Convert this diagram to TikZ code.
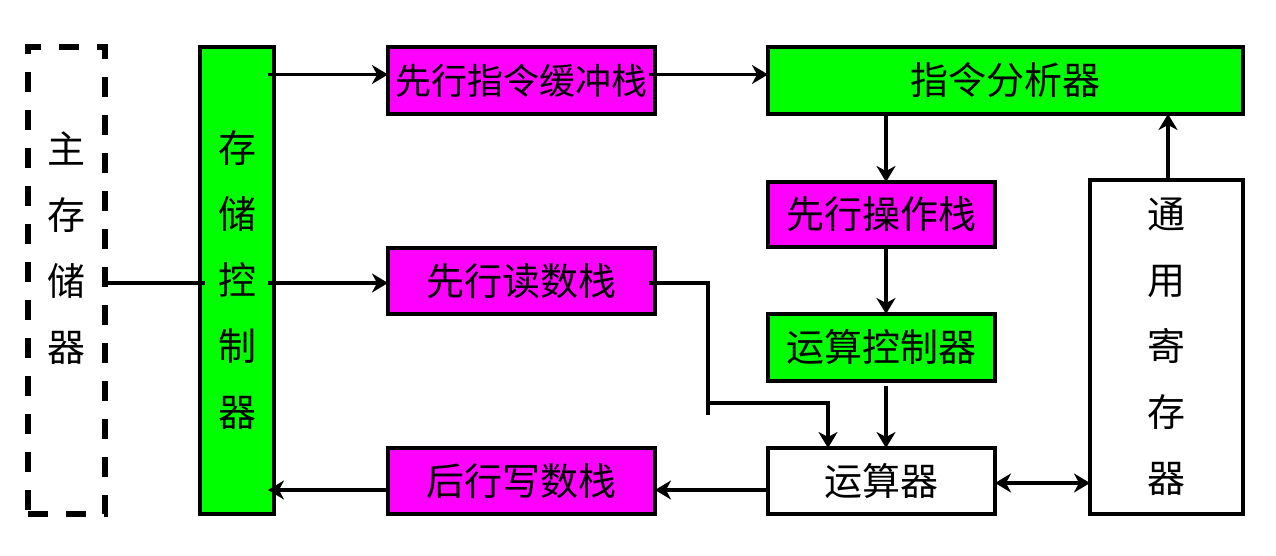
\documentclass[tikz,border=0pt]{standalone}
\usepackage{fontspec}
\newfontfamily\cjk{Noto Sans CJK SC}
\usetikzlibrary{arrows.meta,calc}
\definecolor{bgreen}{HTML}{00FF00}
\definecolor{bmag}{HTML}{FF00FF}
\begin{document}
\begin{tikzpicture}[x=1pt,y=-1pt,
  box/.style={draw=black,line width=4.5pt,inner sep=0pt,outer sep=0pt,font=\cjk\fontsize{38}{66}\selectfont,align=center},
  arr/.style={line width=3.2pt,-{Stealth[length=16pt,width=19pt,inset=5pt]}},
  plain/.style={line width=3.2pt},
  dbl/.style={line width=3.2pt,{Stealth[length=16pt,width=19pt,inset=5pt]}-{Stealth[length=16pt,width=19pt,inset=5pt]}}]
\useasboundingbox (0,0) rectangle (1276,556);
% boxes
\node[draw=black,line width=5.5pt,dash pattern=on 20pt off 18pt,minimum width=77pt,minimum height=467pt,inner sep=0pt] (mem) at (66.5,280.5) {};
\node[font=\cjk\fontsize{38}{66}\selectfont,align=center,inner sep=0pt] (memtxt) at (66.5,248) {主\\存\\储\\器};
\node[box,fill=bgreen,minimum width=74pt,minimum height=467pt] (ctrl) at (237,280.5) {存\\储\\控\\制\\器};
\node[box,fill=bmag,minimum width=267pt,minimum height=67pt,font=\cjk\fontsize{36}{40}\selectfont] (ibuf) at (521.5,80.5) {先行指令缓冲栈};
\node[box,fill=bgreen,minimum width=475pt,minimum height=67pt] (ana) at (1005.5,80.5) {指令分析器};
\node[box,fill=bmag,minimum width=227pt,minimum height=65pt] (opst) at (881.5,214.5) {先行操作栈};
\node[box,fill=bgreen,minimum width=227pt,minimum height=67pt] (actl) at (881.5,347.5) {运算控制器};
\node[box,fill=white,minimum width=227pt,minimum height=66pt] (alu) at (881.5,481) {运算器};
\node[box,fill=white,minimum width=153pt,minimum height=334pt] (reg) at (1166.5,347) {通\\用\\寄\\存\\器};
\node[box,fill=bmag,minimum width=267pt,minimum height=66pt] (rd) at (521.5,281) {先行读数栈};
\node[box,fill=bmag,minimum width=267pt,minimum height=66pt] (wr) at (521.5,481) {后行写数栈};
% helper coordinates
\coordinate (bx) at (708,0);
\coordinate (ax) at (828,0);
% connectors
\draw[arr] ($(ctrl.east |- ibuf.west)+(-6,-6)$) -- ($(ibuf.west)+(0,-6)$);
\draw[arr] ($(ibuf.east)+(-6,-6)$) -- ($(ana.west)+(0,-6)$);
\draw[plain] (mem.east |- 0,283) -- ($(ctrl.west |- 0,283)+(5,0)$);
\draw[arr] ($(ctrl.east |- 0,283)+(-6,0)$) -- (rd.west |- 0,283);
\draw[plain] ($(rd.east |- 0,283)+(-6,0)$) -| ($(bx)+(0,415)$);
\draw[arr] ($(bx)+(0,403)$) -| (alu.north -| ax);
\draw[arr] ($(ana.south -| opst.north)+(4.5,0)$) -- ($(opst.north)+(4.5,0)$);
\draw[arr] ($(opst.south)+(4.5,0)$) -- ($(actl.north)+(4.5,0)$);
\draw[arr] ($(actl.south)+(4.5,5)$) -- ($(alu.north)+(4.5,0)$);
\draw[dbl] ($(alu.east)+(0,2)$) -- ($(reg.west |- alu.east)+(0,2)$);
\draw[arr] ($(reg.north)+(1.5,0)$) -- ($(ana.south -| reg.north)+(1.5,0)$);
\draw[arr] ($(alu.west)+(0,9)$) -- ($(wr.east)+(0,9)$);
\draw[arr] ($(wr.west)+(0,9)$) -- ($(ctrl.east |- wr.west)+(-6,9)$);
\end{tikzpicture}
\end{document}
